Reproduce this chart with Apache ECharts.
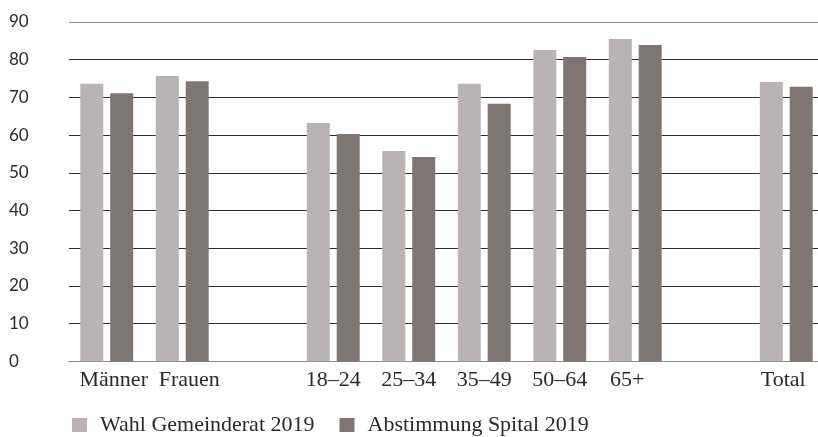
<!DOCTYPE html>
<html>
<head>
<meta charset="utf-8">
<style>
  html, body { margin: 0; padding: 0; background: #fff; }
  #chart { width: 818px; height: 437px; }
</style>
<script src="https://cdn.jsdelivr.net/npm/echarts@6/dist/echarts.min.js"></script>
</head>
<body>
<div id="chart"></div>
<script>
// Gruppen: Geschlecht, Altersklassen, Total (leere Felder als Abstand)
const categories = ['Männer', 'Frauen', ' ', '18–24', '25–34', '35–49', '50–64', '65+', '  ', 'Total'];
const wahlGemeinderat = [73.6, 75.7, null, 63.2, 55.8, 73.6, 82.6, 85.5, null, 74.1];
const abstimmungSpital = [71.1, 74.3, null, 60.3, 54.2, 68.3, 80.7, 83.9, null, 72.8];
const seriesNames = ['Wahl Gemeinderat 2019', 'Abstimmung Spital 2019'];
const yTicks = { min: 0, max: 90, interval: 10 };

const serif = '"Liberation Serif", "Times New Roman", serif';
const sans = 'Lato, "Open Sans", sans-serif';

// horizontal nudge (px) for a few category labels
const labelNudge = { 'Männer': 7, 'Frauen': 7, '65+': -8, 'Total': -3 };
const axisData = categories.map(function (name) {
  const dx = labelNudge[name];
  if (!dx) return name;
  return {
    value: name,
    textStyle: { padding: dx > 0 ? [0, 0, 0, 2 * dx] : [0, -2 * dx, 0, 0] }
  };
});

const chart = echarts.init(document.getElementById('chart'), null, { renderer: 'canvas' });
chart.setOption({
  animation: false,
  grid: { left: 69, top: 22, width: 755, height: 339.3, containLabel: false, outerBoundsMode: 'none' },
  legend: {
    left: 72,
    top: 414,
    padding: 0,
    itemWidth: 15,
    itemHeight: 14,
    itemGap: 25,
    icon: 'rect',
    textStyle: { fontFamily: serif, fontSize: 22, color: '#2a2a2a', padding: [0, 0, 0, 8] },
    data: seriesNames
  },
  xAxis: {
    type: 'category',
    data: axisData,
    axisLine: { show: true, lineStyle: { color: '#8a8a8a', width: 1 } },
    axisTick: { show: false },
    axisLabel: { fontFamily: serif, fontSize: 22, color: '#2a2a2a', margin: 8, interval: 0 },
    splitLine: { show: false }
  },
  yAxis: {
    type: 'value',
    min: yTicks.min,
    max: yTicks.max,
    interval: yTicks.interval,
    axisLine: { show: false },
    axisTick: { show: false },
    axisLabel: { fontFamily: sans, fontSize: 17, color: '#2a2a2a', align: 'left', margin: 60 },
    splitLine: {
      show: true,
      lineStyle: {
        width: 1,
        color: ['#8a8a8a', '#2e2e2e', '#2e2e2e', '#2e2e2e', '#2e2e2e', '#2e2e2e', '#2e2e2e', '#2e2e2e', '#2e2e2e', '#8a8a8a']
      }
    }
  },
  series: [
    {
      name: seriesNames[0],
      type: 'bar',
      data: wahlGemeinderat,
      barWidth: 23,
      barGap: '30%',
      itemStyle: { color: '#b9b3b3' }
    },
    {
      name: seriesNames[1],
      type: 'bar',
      data: abstimmungSpital,
      barWidth: 23,
      barGap: '30%',
      itemStyle: { color: '#7f7674' }
    }
  ]
});
</script>
</body>
</html>
